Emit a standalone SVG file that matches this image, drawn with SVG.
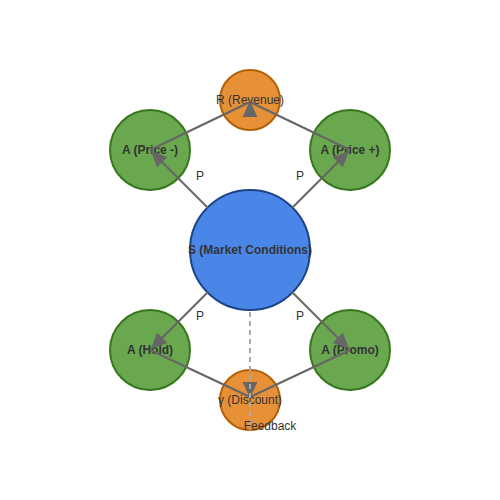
<svg xmlns="http://www.w3.org/2000/svg" width="500" height="500" viewBox="0 0 500 500">
<style>
.g{fill:#6aa84f;stroke:#38761d;stroke-width:2}
.b{fill:#4a86e8;stroke:#1c4587;stroke-width:2}
.o{fill:#e69138;stroke:#b45f06;stroke-width:2}
.t{font-family:"Liberation Sans",Arial,sans-serif;font-size:12px;fill:#333;text-anchor:middle;dominant-baseline:central}
.bd{font-weight:bold}
.e{stroke:#666;stroke-width:2;fill:none;marker-end:url(#ah)}
.d{stroke:#aaa;stroke-width:2;fill:none;stroke-dasharray:5,4}
</style>
<defs>
<marker id="ah" viewBox="0 0 10 10" refX="10" refY="5" markerWidth="8" markerHeight="8" orient="auto" markerUnits="strokeWidth">
<path d="M0,0.5 L10,5 L0,9.5 z" fill="#666"/>
</marker>
</defs>
<rect width="500" height="500" fill="#fff"/>
<g id="nodes">
<g id="S"><circle class="b" cx="250" cy="250" r="60"/><text class="t bd" x="250" y="250">S (Market Conditions)</text></g>
<g id="R"><circle class="o" cx="250" cy="100" r="30"/><text class="t" x="250" y="100">R (Revenue)</text></g>
<g id="Aminus"><circle class="g" cx="150" cy="150" r="40"/><text class="t bd" x="150" y="150">A (Price -)</text></g>
<g id="Aplus"><circle class="g" cx="350" cy="150" r="40"/><text class="t bd" x="350" y="150">A (Price +)</text></g>
<g id="Ahold"><circle class="g" cx="150" cy="350" r="40"/><text class="t bd" x="150" y="350">A (Hold)</text></g>
<g id="Apromo"><circle class="g" cx="350" cy="350" r="40"/><text class="t bd" x="350" y="350">A (Promo)</text></g>
<g id="gamma"><circle class="o" cx="250" cy="400" r="30"/><text class="t" x="250" y="400">γ (Discount)</text></g>
</g>
<g id="connectors">
<line class="e" x1="208" y1="208" x2="151" y2="151"/>
<line class="e" x1="292" y1="208" x2="349" y2="151"/>
<line class="e" x1="208" y1="292" x2="151" y2="349"/>
<line class="e" x1="292" y1="292" x2="349" y2="349"/>
<path class="e" d="M150,150 L250,102 L250,101"/>
<path class="e" d="M350,150 L250,102 L250,101"/>
<path class="e" d="M150,350 L250,397 L250,398"/>
<path class="e" d="M350,350 L250,397 L250,398"/>
<line class="d" x1="250" y1="312" x2="250" y2="430"/>
<text class="t" x="200" y="176">P</text>
<text class="t" x="300" y="176">P</text>
<text class="t" x="200" y="316">P</text>
<text class="t" x="300" y="316">P</text>
<text class="t" x="270" y="426">Feedback</text>
</g>
</svg>
